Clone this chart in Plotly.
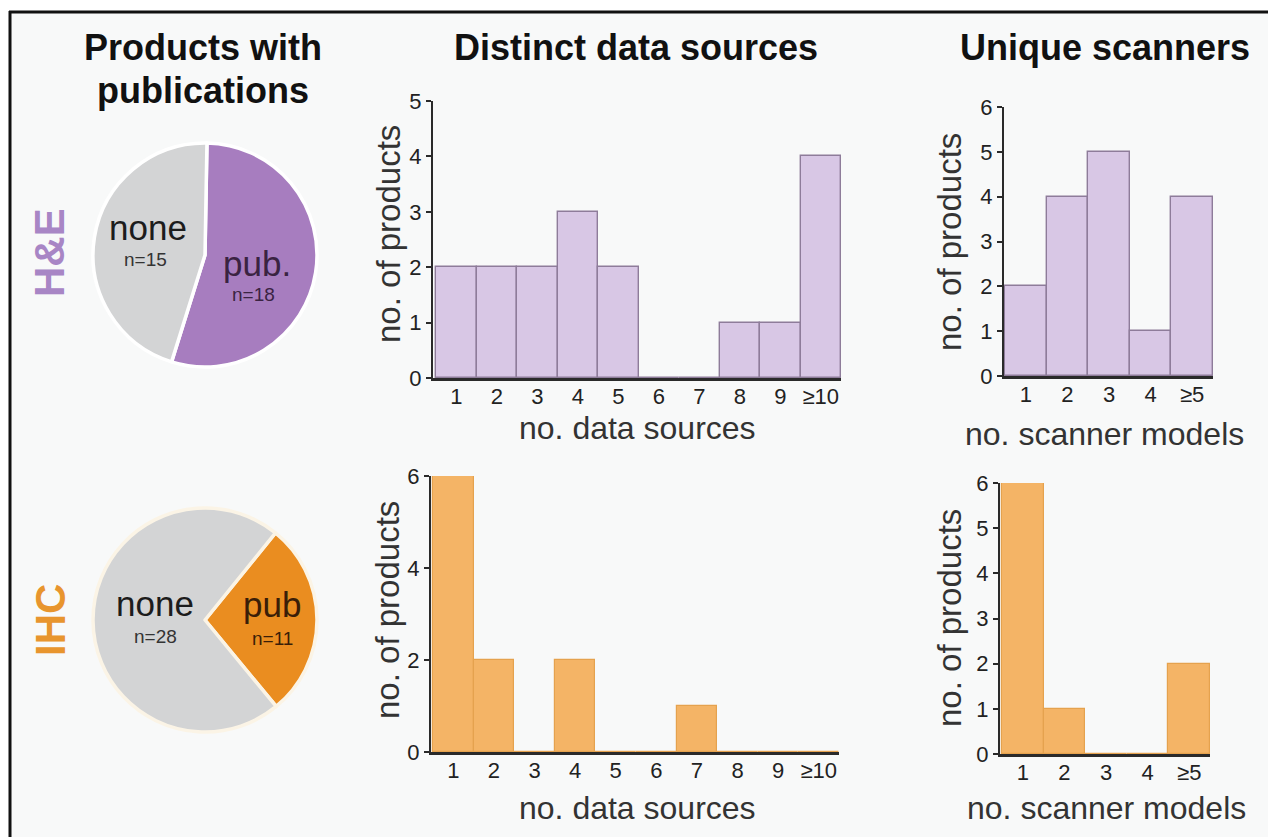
import plotly.graph_objects as go

# ---------------- data ----------------
pie_labels = ["pub.", "none"]
he_pub_counts = [18, 15]
ihc_pie_labels = ["pub", "none"]
ihc_pub_counts = [11, 28]

source_bins = [1, 2, 3, 4, 5, 6, 7, 8, 9, 10]
source_ticktext = ["1", "2", "3", "4", "5", "6", "7", "8", "9", "≥10"]
he_sources = [2, 2, 2, 3, 2, 0, 0, 1, 1, 4]
ihc_sources = [6, 2, 0, 2, 0, 0, 1, 0, 0, 0]

scanner_bins = [1, 2, 3, 4, 5]
scanner_ticktext = ["1", "2", "3", "4", "≥5"]
he_scanners = [2, 4, 5, 1, 4]
ihc_scanners = [6, 1, 0, 0, 2]

# ---------------- styles ----------------
W, H = 1268, 837
FONT = "Liberation Sans, Arial, Helvetica, sans-serif"
PURPLE_PIE = "#a77dbf"
PURPLE_BAR = "#d8c7e5"
PURPLE_EDGE = "#8e7c9a"
PURPLE_TXT = "#a886c5"
ORANGE_PIE = "#ea8d20"
ORANGE_BAR = "#f4b466"
ORANGE_EDGE = "#e5a24e"
ORANGE_TXT = "#e8952e"
GREY = "#d3d4d5"
AX = "#2a2a2a"
BG = "#f8f9f9"


def px_x(x):
    return x / W


def px_y(y):
    return 1 - y / H


fig = go.Figure()

# pies
fig.add_trace(go.Pie(
    labels=pie_labels, values=he_pub_counts, sort=False, direction="clockwise",
    rotation=1, textinfo="none", hoverinfo="label+value",
    marker=dict(colors=[PURPLE_PIE, GREY], line=dict(color="white", width=3.5)),
    domain=dict(x=[px_x(93), px_x(317)], y=[px_y(367), px_y(143)]),
    showlegend=False,
))
fig.add_trace(go.Pie(
    labels=ihc_pie_labels, values=ihc_pub_counts, sort=False, direction="clockwise",
    rotation=39, textinfo="none", hoverinfo="label+value",
    marker=dict(colors=[ORANGE_PIE, GREY], line=dict(color="#fbf4e6", width=3.5)),
    domain=dict(x=[px_x(93), px_x(317)], y=[px_y(732), px_y(508)]),
    showlegend=False,
))

# bars
panels = [
    ("x", "y", source_bins, he_sources, PURPLE_BAR, PURPLE_EDGE, 1.4),
    ("x2", "y2", source_bins, ihc_sources, ORANGE_BAR, ORANGE_EDGE, 1.2),
    ("x3", "y3", scanner_bins, he_scanners, PURPLE_BAR, PURPLE_EDGE, 1.4),
    ("x4", "y4", scanner_bins, ihc_scanners, ORANGE_BAR, ORANGE_EDGE, 1.2),
]
for xa, ya, xs, ys, fc, ec, lw in panels:
    fig.add_trace(go.Bar(
        x=xs, y=ys, xaxis=xa, yaxis=ya, width=1,
        marker=dict(color=fc, line=dict(color=ec, width=lw)),
        showlegend=False,
    ))


def xaxis(dom, rng, tickvals, ticktext, anchor):
    return dict(
        domain=dom, range=rng, anchor=anchor, tickmode="array",
        tickvals=tickvals, ticktext=ticktext, showgrid=False, zeroline=False,
        showline=True, linecolor=AX, linewidth=2.5, ticks="",
        ticklabelstandoff=-3,
        automargin=False, layer="above traces",
        tickfont=dict(family=FONT, size=22, color="#222"), fixedrange=True,
    )


def yaxis(dom, rng, dtick, anchor):
    return dict(
        domain=dom, range=rng, anchor=anchor, dtick=dtick, tick0=0,
        showgrid=False, zeroline=False, showline=True, linecolor=AX,
        linewidth=2, ticks="outside", ticklen=5, tickwidth=2, tickcolor=AX,
        automargin=False, layer="above traces",
        tickfont=dict(family=FONT, size=22, color="#222"), fixedrange=True,
    )


fig.update_layout(
    template="none",
    width=W, height=H, margin=dict(l=0, r=0, t=0, b=0, pad=0), autosize=False,
    paper_bgcolor="white", plot_bgcolor="rgba(0,0,0,0)",
    bargap=0, font=dict(family=FONT, color="#222"),
    xaxis=xaxis([px_x(433), px_x(841)], [0.425, 10.5], source_bins, source_ticktext, "y"),
    yaxis=yaxis([px_y(378), px_y(101)], [0, 5], 1, "x"),
    xaxis2=xaxis([px_x(431), px_x(839)], [0.45, 10.5], source_bins, source_ticktext, "y2"),
    yaxis2=yaxis([px_y(752), px_y(476)], [0, 6], 2, "x2"),
    xaxis3=xaxis([px_x(1004), px_x(1213)], [0.475, 5.5], scanner_bins, scanner_ticktext, "y3"),
    yaxis3=yaxis([px_y(376), px_y(107)], [0, 6], 1, "x3"),
    xaxis4=xaxis([px_x(1000), px_x(1210)], [0.45, 5.5], scanner_bins, scanner_ticktext, "y4"),
    yaxis4=yaxis([px_y(754), px_y(483)], [0, 6], 1, "x4"),
)

# background panel and frame
fig.add_shape(type="rect", xref="paper", yref="paper", x0=px_x(10), x1=1, y0=0, y1=px_y(12),
              fillcolor=BG, line=dict(width=0), layer="below")
fig.add_shape(type="line", xref="paper", yref="paper", x0=px_x(10), x1=px_x(10), y0=0, y1=px_y(11),
              line=dict(color="#111", width=3))
fig.add_shape(type="line", xref="paper", yref="paper", x0=px_x(9), x1=1, y0=px_y(12), y1=px_y(12),
              line=dict(color="#111", width=3))

annotations = []


def ann(x, y, text, size, color="#222", bold=False, angle=0):
    t = f"<b>{text}</b>" if bold else text
    annotations.append(dict(
        x=px_x(x), y=px_y(y), xref="paper", yref="paper", text=t, showarrow=False,
        font=dict(family=FONT, size=size, color=color), textangle=angle,
        xanchor="center", yanchor="middle",
    ))


# column titles
ann(203, 47, "Products with", 36, "#111", True)
ann(203, 91, "publications", 36, "#111", True)
ann(636, 47, "Distinct data sources", 36, "#111", True)
ann(1105, 47, "Unique scanners", 36, "#111", True)

# row labels
ann(49, 253, "H&amp;E", 42, PURPLE_TXT, True, -90)
ann(50, 620, "IHC", 42, ORANGE_TXT, True, -90)

# pie labels
ann(148, 227, pie_labels[1].strip("."), 35, "#1c1c1c")
ann(145, 259, f"n={he_pub_counts[1]}", 19, "#333")
ann(257, 263, pie_labels[0], 35, "#3a2342")
ann(253, 294, f"n={he_pub_counts[0]}", 19, "#3a2342")
ann(155, 603, ihc_pie_labels[1], 35, "#1c1c1c")
ann(155, 636, f"n={ihc_pub_counts[1]}", 19, "#333")
ann(272, 604, ihc_pie_labels[0], 35, "#3a1e08")
ann(272, 638, f"n={ihc_pub_counts[0]}", 19, "#3a1e08")

# axis titles
ann(389, 234, "no. of products", 33, "#333", False, -90)
ann(387, 610, "no. of products", 33, "#333", False, -90)
ann(949, 242, "no. of products", 33, "#333", False, -90)
ann(949, 618, "no. of products", 33, "#333", False, -90)
ann(637, 428, "no. data sources", 32, "#333")
ann(637, 808, "no. data sources", 32, "#333")
ann(1104, 434, "no. scanner models", 32, "#333")
ann(1106, 808, "no. scanner models", 32, "#333")

fig.update_layout(annotations=annotations)

fig.write_html(
    "out.html",
    config={"displayModeBar": False},
    post_script="document.body.style.margin='0px';document.body.style.padding='0px';",
)
